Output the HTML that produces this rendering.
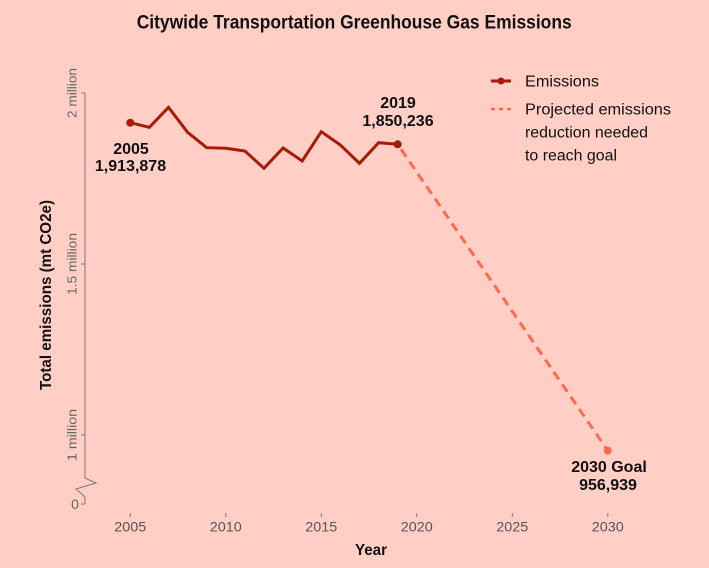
<!DOCTYPE html>
<html>
<head>
<meta charset="utf-8">
<style>
  html,body{margin:0;padding:0;background:#FFCFC6;}
  svg{display:block;}
  text{font-family:"Liberation Sans",sans-serif;}
</style>
</head>
<body>
<svg width="709" height="568" viewBox="0 0 709 568" xmlns="http://www.w3.org/2000/svg">
  <rect x="0" y="0" width="709" height="568" fill="#FFCFC6"/>

  <!-- Title -->
  <text x="136.7" y="28.5" font-size="19" font-weight="bold" fill="#111" textLength="435" lengthAdjust="spacingAndGlyphs">Citywide Transportation Greenhouse Gas Emissions</text>

  <!-- Y axis -->
  <polyline points="85,93 85,478 96,483 76,489 85,497 85,504" fill="none" stroke="#7a7a7a" stroke-width="1"/>
  <line x1="81" y1="93" x2="85" y2="93" stroke="#7a7a7a" stroke-width="1"/>
  <line x1="81" y1="264" x2="85" y2="264" stroke="#7a7a7a" stroke-width="1"/>
  <line x1="81" y1="435" x2="85" y2="435" stroke="#7a7a7a" stroke-width="1"/>
  <line x1="81" y1="504" x2="85" y2="504" stroke="#7a7a7a" stroke-width="1"/>

  <g font-size="13" fill="#666" text-anchor="middle">
    <text transform="translate(76.5,93) rotate(-90)" textLength="50" lengthAdjust="spacingAndGlyphs">2 million</text>
    <text transform="translate(76.5,264) rotate(-90)" textLength="62" lengthAdjust="spacingAndGlyphs">1.5 million</text>
    <text transform="translate(76.5,435) rotate(-90)" textLength="52" lengthAdjust="spacingAndGlyphs">1 million</text>
  </g>
  <text x="75" y="509" font-size="14" fill="#666" text-anchor="middle">0</text>

  <!-- Y axis title -->
  <text transform="translate(51,295) rotate(-90)" font-size="16" font-weight="bold" fill="#111" text-anchor="middle" textLength="190" lengthAdjust="spacingAndGlyphs">Total emissions (mt CO2e)</text>

  <!-- X ticks -->
  <g stroke="#7a7a7a" stroke-width="1">
    <line x1="130.3" y1="513" x2="130.3" y2="517"/>
    <line x1="225.8" y1="513" x2="225.8" y2="517"/>
    <line x1="321.3" y1="513" x2="321.3" y2="517"/>
    <line x1="416.8" y1="513" x2="416.8" y2="517"/>
    <line x1="512.3" y1="513" x2="512.3" y2="517"/>
    <line x1="607.8" y1="513" x2="607.8" y2="517"/>
  </g>
  <g font-size="14" fill="#555" text-anchor="middle">
    <text x="130.3" y="531.5" textLength="32" lengthAdjust="spacingAndGlyphs">2005</text>
    <text x="225.8" y="531.5" textLength="32" lengthAdjust="spacingAndGlyphs">2010</text>
    <text x="321.3" y="531.5" textLength="32" lengthAdjust="spacingAndGlyphs">2015</text>
    <text x="416.8" y="531.5" textLength="32" lengthAdjust="spacingAndGlyphs">2020</text>
    <text x="512.3" y="531.5" textLength="32" lengthAdjust="spacingAndGlyphs">2025</text>
    <text x="607.8" y="531.5" textLength="32" lengthAdjust="spacingAndGlyphs">2030</text>
  </g>
  <text x="371" y="555" font-size="16" font-weight="bold" fill="#111" text-anchor="middle" textLength="32" lengthAdjust="spacingAndGlyphs">Year</text>

  <!-- Projected dashed line -->
  <line x1="397.7" y1="144.3" x2="607.8" y2="450.7" stroke="#FF6A4F" stroke-width="3" stroke-dasharray="9,6" stroke-dashoffset="-6"/>
  <circle cx="607.8" cy="450.7" r="4" fill="#FF6A4F"/>

  <!-- Emissions line -->
  <polyline fill="none" stroke="#A81A08" stroke-width="3" stroke-linejoin="miter"
    points="130.3,122.7 149.4,127.3 168.5,107.3 187.6,132.3 206.7,147.7 225.8,148.3 244.9,151 264,168.3 283.1,148 302.2,161 321.3,131.7 340.4,145 359.5,163.3 378.6,142.7 397.7,144.3"/>
  <circle cx="130.3" cy="122.7" r="4" fill="#A81A08"/>
  <circle cx="397.7" cy="144.3" r="4" fill="#A81A08"/>

  <!-- Annotations -->
  <g font-size="16" font-weight="bold" fill="#111" text-anchor="middle">
    <text x="398" y="108">2019</text>
    <text x="398" y="126">1,850,236</text>
    <text x="131" y="154">2005</text>
    <text x="130.5" y="171">1,913,878</text>
    <text x="609" y="472">2030 Goal</text>
    <text x="608" y="490">956,939</text>
  </g>

  <!-- Legend -->
  <line x1="491" y1="81" x2="511" y2="81" stroke="#A81A08" stroke-width="3"/>
  <circle cx="501" cy="81" r="3.5" fill="#A81A08"/>
  <line x1="491" y1="109" x2="511" y2="109" stroke="#FF6A4F" stroke-width="2.5" stroke-dasharray="4,4"/>
  <g font-size="15.5" fill="#111">
    <text x="525" y="86.5" textLength="74" lengthAdjust="spacingAndGlyphs">Emissions</text>
    <text x="525" y="114.5" textLength="146" lengthAdjust="spacingAndGlyphs">Projected emissions</text>
    <text x="525" y="137.5" textLength="123" lengthAdjust="spacingAndGlyphs">reduction needed</text>
    <text x="525" y="160.5" textLength="92" lengthAdjust="spacingAndGlyphs">to reach goal</text>
  </g>
</svg>
</body>
</html>
